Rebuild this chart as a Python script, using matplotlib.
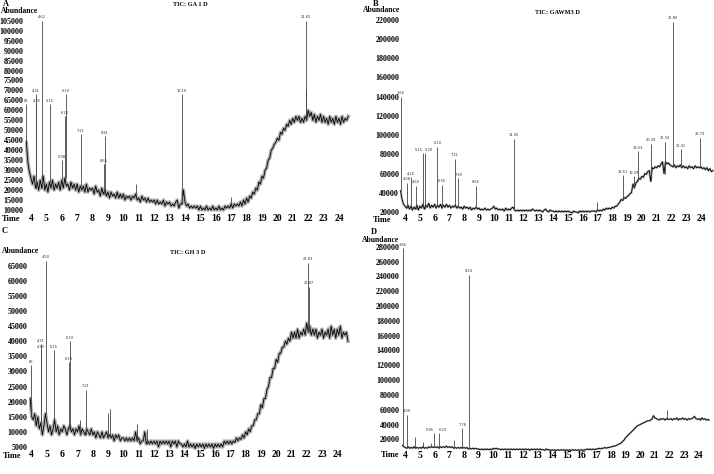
import numpy as np
import matplotlib
matplotlib.use("Agg")
import matplotlib.pyplot as plt

W, H = 714, 474
DT = 0.1  # baseline sampling step (min)

# ---------------- A : TIC: GA 1 D ----------------
a_t0 = 3.7
a_base_k = [44, 34, 29,
            26, 23, 27, 21, 24, 20, 25, 21, 27, 20,
            23, 19, 24, 21, 25, 20, 23, 21, 24, 20,
            25, 21, 26, 22, 23, 20, 24, 21, 23, 20,
            23, 19, 22, 20, 22, 19, 23, 19, 21, 20,
            21, 18, 22, 19, 20, 17, 21, 18, 20, 17,
            19, 16, 19, 17, 18, 16, 19, 16, 18, 16,
            18, 15, 17, 16, 17, 15, 17, 16, 18, 15,
            16, 14, 17, 15, 16, 14, 16, 14, 15, 14,
            15, 13, 15, 13, 14, 13, 15, 12, 14, 13,
            14, 12, 13, 12, 14, 15, 11, 13, 13, 20,
            14, 12, 13, 11, 12, 11, 12, 11, 12, 10,
            12, 10, 11, 10, 12, 10, 11, 10, 12, 10,
            11, 10, 12, 10, 11, 10, 12, 11, 12, 11,
            13, 11, 13, 12, 13, 12, 14, 12, 15, 13,
            16, 14, 17, 16, 19, 18, 21, 20, 24, 23,
            27, 26, 30, 31, 35, 36, 40, 41, 43, 44,
            46, 45, 49, 48, 51, 50, 53, 52, 55, 53,
            56, 54, 57, 55, 57, 54, 56, 54, 57, 55,
            60, 57, 59, 55, 58, 54, 57, 55, 58, 54,
            57, 54, 56, 53, 57, 54, 56, 53, 57, 54,
            56, 53, 57, 54, 56, 55, 57]
a_peak_t = [3.66, 4.31, 4.35, 4.69, 5.22, 6.03, 6.18, 6.25, 7.25, 8.72, 8.80,
            10.85, 13.78, 17.0, 21.84, 21.86]
a_peak_h = [63000, 68000, 63000, 105000, 63000, 35000, 57000, 68000, 48000,
            33000, 47000, 23000, 68000, 16500, 105000, 70000]
a_peak_lab = ["66", "4.31", "4.35", "4.62", "5.15", "5.98", "6.10", "6.19",
              "7.21", "8.65", "8.81", "", "13.10", "", "21.81", ""]
a_yticks = list(range(10000, 105001, 5000))

# ---------------- B : TIC: GAWM3 D ----------------
b_t0 = 3.7
b_base_k = [42, 33, 28,
            26, 24, 27, 23, 26, 22, 25, 23, 27, 22,
            26, 24, 28, 23, 27, 25, 29, 24, 27, 25,
            28, 24, 27, 25, 28, 24, 27, 25, 28, 25,
            27, 24, 26, 25, 27, 24, 26, 24, 25, 23,
            26, 24, 25, 23, 25, 22, 24, 23, 25, 23,
            24, 22, 23, 22, 24, 22, 23, 22, 23, 24,
            26, 23, 24, 22, 23, 22, 23, 21, 24, 22,
            23, 22, 24, 25, 22, 21, 22, 21, 22, 21,
            22, 21, 22, 21, 22, 21, 23, 22, 21, 22,
            21, 22, 21, 20, 22, 23, 21, 20, 22, 21,
            21, 20, 21, 20, 21, 20, 21, 20, 21, 20,
            21, 20, 20, 19, 21, 20, 20, 19, 21, 20,
            21, 20, 21, 20, 21, 20, 21, 21, 21, 20,
            22, 21, 22, 21, 23, 22, 24, 23, 24, 23,
            25, 24, 26, 26, 28, 30, 33, 32, 35, 34,
            36, 37, 39, 40, 49, 45, 50, 52, 55, 54,
            57, 56, 60, 59, 62, 63, 52, 66, 65, 67,
            66, 68, 67, 70, 72, 60, 72, 70, 71, 69,
            68, 67, 69, 66, 68, 67, 69, 66, 68, 66,
            67, 65, 68, 66, 67, 65, 68, 66, 67, 66,
            67, 65, 66, 64, 66, 63, 65, 62, 63]
b_peak_t = [3.73, 4.11, 4.39, 4.72, 5.22, 5.35, 6.18, 6.48, 7.38, 7.60, 8.80,
            11.36, 17.0, 18.70, 19.47, 19.72, 20.62, 21.55, 22.12, 22.65, 23.93]
b_peak_h = [140000, 50000, 56000, 47000, 81000, 81000, 88000, 48000, 75000,
            55000, 47000, 96000, 30000, 58000, 57000, 83000, 91000, 93000,
            218000, 85000, 97000]
b_peak_lab = ["3.66", "4.08", "4.26", "4.60", "5.15", "5.20", "6.10", "6.36",
              "7.21", "7.49", "8.66", "11.26", "", "18.51", "19.29", "19.53",
              "20.39", "21.34", "21.80", "22.41", "23.79"]
b_yticks = list(range(20000, 220001, 20000))

# ---------------- C : TIC: GH 3 D ----------------
c_t0 = 3.9
c_base_k = [21,
            15, 14, 16, 12, 15, 11, 13, 9, 12, 16,
            13, 10, 12, 9, 11, 14, 10, 12, 9, 11,
            10, 12, 11, 9, 11, 12, 10, 11, 9, 11,
            10, 12, 9, 11, 10, 9, 11, 10, 9, 11,
            9, 10, 8, 10, 9, 8, 10, 8, 9, 10,
            8, 9, 8, 9, 7, 9, 8, 9, 7, 8,
            8, 7, 8, 7, 8, 7, 8, 7, 10, 7,
            8, 6, 7, 7, 10, 6, 7, 6, 7, 6,
            7, 6, 7, 5, 7, 6, 7, 6, 7, 6,
            7, 5, 7, 6, 7, 5, 7, 6, 6, 5,
            6, 5, 7, 5, 6, 5, 6, 4.5, 6, 5,
            6, 5, 6, 4.5, 6, 5, 6, 5, 6, 4.5,
            6, 5, 6, 5, 6, 5, 7, 6, 7, 6,
            7, 6, 7, 6.5, 8, 7, 8, 7.5, 9, 8,
            10, 9, 11, 10, 12, 12, 14, 14, 16, 16,
            19, 18, 21, 21, 24, 25, 28, 28, 31, 31,
            34, 33, 36, 36, 38, 38, 40, 39, 41, 40,
            43, 41, 43, 41, 44, 41, 43, 42, 44, 42,
            46, 43, 45, 42, 44, 42, 44, 41, 43, 42,
            44, 41, 43, 42, 44, 41, 45, 42, 44, 41,
            44, 42, 45, 41, 43, 42, 43, 40]
c_peak_t = [3.95, 4.59, 4.62, 4.94, 5.46, 6.42, 6.50, 7.16, 7.53, 9.0, 9.12,
            10.9, 11.55, 22.1, 22.12]
c_peak_h = [32000, 39000, 37000, 66500, 37000, 33000, 40000, 14000, 24000,
            16200, 17500, 12500, 11000, 66000, 58000]
c_peak_lab = ["66", "4.31", "4.33", "4.50", "5.15", "6.10", "6.19", "", "7.21",
              "", "", "", "", "21.83", "21.87"]
c_yticks = list(range(5000, 65001, 5000))

# ---------------- D ----------------
d_t0 = 3.8
d_base_k = [12, 10,
            9, 8, 10, 8, 9, 8, 10, 8, 9, 8,
            9, 8, 10, 8, 9, 8, 10, 9, 10, 9,
            10, 9, 10, 8, 10, 9, 10, 9, 11, 9,
            10, 9, 10, 8, 9, 8, 9, 8, 9, 8,
            9, 8, 9, 7, 8, 7, 8, 7, 8, 7,
            7, 6, 7, 6, 7, 6, 7, 6, 7, 6,
            8, 7, 8, 7, 7, 6, 7, 6, 7, 6,
            7, 6, 7, 6, 7, 6, 7, 6, 7, 6,
            7, 6, 7, 6, 7, 5, 7, 6, 7, 6,
            7, 6, 7, 6, 6, 5, 7, 6, 6, 5,
            6, 5, 6, 5, 6, 5, 6, 5, 6, 5,
            6, 5, 6, 5, 6, 5, 6, 5, 6, 5,
            6, 5, 6, 6, 7, 6, 7, 6, 7, 6,
            7, 7, 8, 7, 8, 8, 9, 8, 9, 9,
            10, 10, 11, 11, 12, 13, 14, 15, 17, 19,
            22, 24, 26, 28, 30, 32, 34, 36, 38, 39,
            40, 41, 42, 43, 44, 45, 45, 46, 47, 52,
            49, 48, 47, 46, 48, 47, 48, 46, 48, 47,
            47, 48, 46, 48, 47, 49, 46, 48, 47, 49,
            47, 48, 46, 48, 47, 48, 49, 51, 48, 47,
            48, 46, 49, 47, 48, 46, 47, 46]
d_peak_t = [3.82, 4.10, 4.66, 5.22, 5.72, 5.95, 6.27, 7.32, 7.88, 8.31, 21.85]
d_peak_h = [278000, 53000, 23500, 17000, 14600, 28000, 28000, 19000, 35000,
            242000, 59000]
d_peak_lab = ["3.66", "4.00", "", "", "", "5.85", "6.20", "", "7.78", "8.24", ""]
d_yticks = list(range(20000, 280001, 20000))

xticks = list(range(4, 25))

SERIF = "Liberation Serif"
# labels of close peak pairs are pushed apart sideways
LAB_HA = {"5.15": "right", "5.20": "left", "5.85": "right", "6.20": "left"}

fig = plt.figure(figsize=(W / 100, H / 100), dpi=100)


def px_axes(l, r, t, b):
    return fig.add_axes([l / W, 1 - b / H, (r - l) / W, (b - t) / H])


def ftext(x, y, s, size, ha="left", weight="bold"):
    fig.text(x / W, 1 - y / H, s, fontsize=size, ha=ha, va="center",
             family=SERIF, fontweight=weight)


def panel(box, xlim, ylim, t0, base_k, pk_t, pk_h, pk_lab, yticks, ypad, halo,
          pair_split=False):
    ax = px_axes(*box)
    vals = np.array(base_k) * 1000.0
    t = t0 + DT * np.arange(len(vals))
    # grey fuzz of the noisy baseline, then the trace itself
    ax.plot(t, vals, color="#8c8c8c", lw=halo, alpha=0.7, solid_joinstyle="round")
    ax.plot(t, vals, color="black", lw=0.6)
    for pt, ph, lab in zip(pk_t, pk_h, pk_lab):
        i = min(max(int(round((pt - t0) / DT)), 0), len(vals) - 1)
        ax.vlines(pt, vals[i], ph, color="#444444", lw=0.6)
        if lab:
            ha = LAB_HA.get(lab, "center") if pair_split else "center"
            ax.annotate(lab, (pt, ph), xytext=(0, 1.2), textcoords="offset points",
                        ha=ha, va="bottom", fontsize=2.6, color="#333333",
                        family="DejaVu Sans")
    ax.set_xlim(*xlim)
    ax.set_ylim(*ylim)
    ax.set_xticks(xticks)
    ax.set_yticks(yticks)
    ax.set_yticklabels([str(v) for v in yticks])
    for s in ax.spines.values():
        s.set_visible(False)
    ax.tick_params(axis="x", length=0, pad=0, labelsize=7)
    ax.tick_params(axis="y", length=0, pad=ypad, labelsize=5.8)
    for lb in ax.get_xticklabels() + ax.get_yticklabels():
        lb.set_family(SERIF)
        lb.set_fontweight("bold")
    ax.patch.set_alpha(0)
    return ax


panel((24.8, 351.3, 14.7, 214.0), (3.6, 24.8), (8000, 108000),
      a_t0, a_base_k, a_peak_t, a_peak_h, a_peak_lab, a_yticks, 1.0, 2.6)
panel((399.7, 713.6, 12.0, 213.9), (3.64, 24.85), (18000, 228000),
      b_t0, b_base_k, b_peak_t, b_peak_h, b_peak_lab, b_yticks, 0.3, 1.6,
      pair_split=True)
panel((29.4, 349.5, 256.6, 450.0), (3.85, 24.8), (4000, 68000),
      c_t0, c_base_k, c_peak_t, c_peak_h, c_peak_lab, c_yticks, 1.1, 2.6)
panel((401.6, 710.6, 239.4, 451.2), (3.75, 24.8), (4000, 290000),
      d_t0, d_base_k, d_peak_t, d_peak_h, d_peak_lab, d_yticks, 1.1, 1.4,
      pair_split=True)

# panel letters, axis words, titles
ftext(3, 4, "A", 6)
ftext(1, 11, "Abundance", 5.5)
ftext(2, 219, "Time", 6)
ftext(190, 5, "TIC: GA 1 D", 4.5, ha="center")

ftext(373, 3.5, "B", 6)
ftext(382, 10.5, "Abundance", 5.5, ha="center")
ftext(373, 220, "Time", 6)
ftext(557, 13, "TIC: GAWM3 D", 4.5, ha="center")

ftext(2, 231, "C", 6)
ftext(2, 251, "Abundance", 5.5)
ftext(3, 455.5, "Time", 6)
ftext(188, 252.5, "TIC: GH 3 D", 4.5, ha="center")

ftext(371, 232, "D", 6)
ftext(362, 239.5, "Abundance", 5.5)
ftext(381, 455, "Time", 6)

fig.savefig("out.png", dpi=100)
